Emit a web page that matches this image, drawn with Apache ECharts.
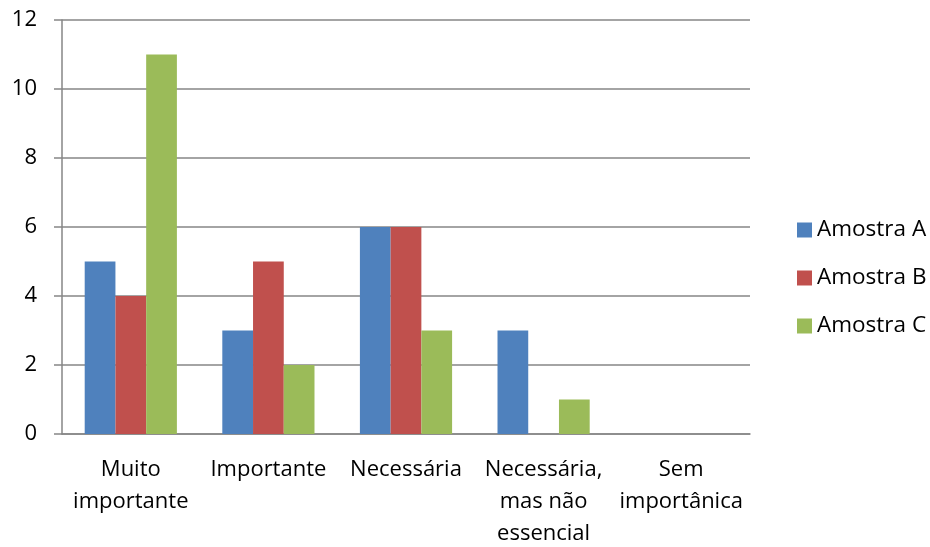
<!DOCTYPE html>
<html>
<head>
<meta charset="utf-8">
<script src="https://cdn.jsdelivr.net/npm/echarts@6/dist/echarts.min.js"></script>
<style>
  html, body { margin: 0; padding: 0; background: #fff; }
  #chart { width: 930px; height: 547px; }
</style>
</head>
<body>
<div id="chart"></div>
<script>
// Answer categories (line breaks follow the wrapped axis labels)
const categories = ['Muito\nimportante', 'Importante', 'Necessária', 'Necessária,\nmas não\nessencial', 'Sem\nimportânica'];
const seriesNames = ['Amostra A', 'Amostra B', 'Amostra C'];
const amostraA = [5, 3, 6, 3, 0];
const amostraB = [4, 5, 6, 0, 0];
const amostraC = [11, 2, 3, 1, 0];
const yTicks = { min: 0, max: 12, interval: 2 };

const colors = ['#4F81BD', '#C0504D', '#9BBB59'];
const font = 'Open Sans, Liberation Sans, sans-serif';
const axisGray = '#868686';

const chart = echarts.init(document.getElementById('chart'));
chart.setOption({
  animation: false,
  color: colors,
  grid: {
    left: 62, right: 180, top: 20, bottom: 113,
    containLabel: false, outerBoundsMode: 'none'
  },
  legend: {
    orient: 'vertical',
    left: 792,
    top: 213,
    itemWidth: 15,
    itemHeight: 15,
    itemGap: 24,
    icon: 'rect',
    textStyle: { fontFamily: font, fontSize: 22.5, lineHeight: 24, color: '#000' },
    data: seriesNames
  },
  xAxis: {
    type: 'category',
    data: categories,
    axisLine: { lineStyle: { color: axisGray, width: 1.5 } },
    axisTick: { length: 9, lineStyle: { color: axisGray, width: 1.5 } },
    axisLabel: {
      color: '#000', fontFamily: font, fontSize: 22,
      lineHeight: 32, margin: 20, interval: 0
    }
  },
  yAxis: {
    type: 'value',
    min: yTicks.min, max: yTicks.max, interval: yTicks.interval,
    axisLine: { show: true, lineStyle: { color: axisGray, width: 1.5 } },
    axisTick: { show: true, length: 8, inside: false, lineStyle: { color: axisGray, width: 1.5 } },
    splitLine: { lineStyle: { color: axisGray, width: 1.5 } },
    axisLabel: { color: '#000', fontFamily: font, fontSize: 22, margin: 25 }
  },
  series: [amostraA, amostraB, amostraC].map((d, i) => ({
    name: seriesNames[i],
    type: 'bar',
    data: d,
    barGap: '0%',
    barCategoryGap: '33%'
  }))
});
</script>
</body>
</html>
